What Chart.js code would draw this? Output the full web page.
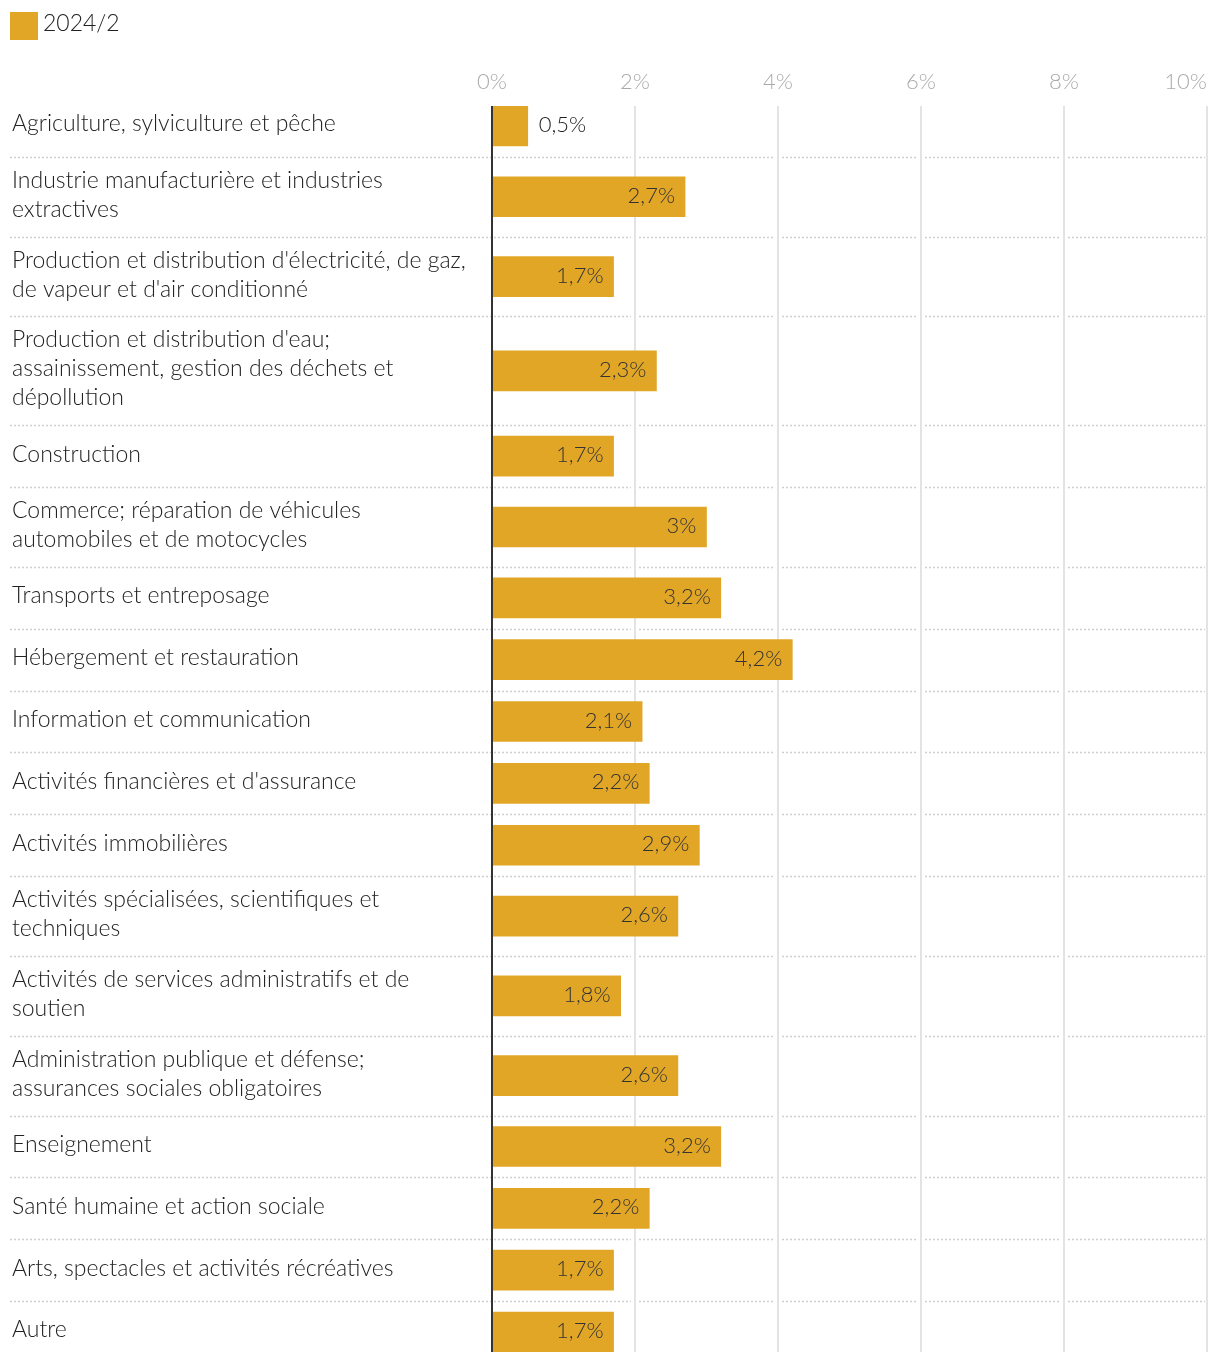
<!DOCTYPE html>
<html lang="fr">
<head>
<meta charset="UTF-8" />
<title>Secteurs — 2024/2</title>
<script src="https://cdn.jsdelivr.net/npm/chart.js"></script>
<style>
  html, body { margin: 0; padding: 0; background: #fff; }
  #wrap { position: relative; width: 1220px; height: 1364px; }
</style>
</head>
<body>
<div id="wrap"><canvas id="chart"></canvas></div>
<script>
// data
const seriesName = '2024/2';
const categories = [
  ['Agriculture, sylviculture et pêche'],
  ['Industrie manufacturière et industries', 'extractives'],
  ["Production et distribution d'électricité, de gaz,", "de vapeur et d'air conditionné"],
  ["Production et distribution d'eau;", 'assainissement, gestion des déchets et', 'dépollution'],
  ['Construction'],
  ['Commerce; réparation de véhicules', 'automobiles et de motocycles'],
  ['Transports et entreposage'],
  ['Hébergement et restauration'],
  ['Information et communication'],
  ["Activités financières et d'assurance"],
  ['Activités immobilières'],
  ['Activités spécialisées, scientifiques et', 'techniques'],
  ['Activités de services administratifs et de', 'soutien'],
  ['Administration publique et défense;', 'assurances sociales obligatoires'],
  ['Enseignement'],
  ['Santé humaine et action sociale'],
  ['Arts, spectacles et activités récréatives'],
  ['Autre']
];
const values = [0.5, 2.7, 1.7, 2.3, 1.7, 3, 3.2, 4.2, 2.1, 2.2, 2.9, 2.6, 1.8, 2.6, 3.2, 2.2, 1.7, 1.7];
const tickValues = [0, 2, 4, 6, 8, 10];

const FACE = 'Lato, "Open Sans", sans-serif';
const FONT = '300 22px ' + FACE;
const LABEL_FONT = '300 23px ' + FACE;
const BAR_COLOR = '#e2a627';
const LINE_H = 29, ROW_PAD = 22, ROW_MIN = 62, BAR_H = 40;

// rows grow with the number of label lines
const rowHeights = categories.map(l => Math.max(ROW_MIN, l.length * LINE_H + ROW_PAD));
const rowTops = [];
let acc = 0;
rowHeights.forEach(h => { rowTops.push(acc); acc += h; });
const totalH = acc;
const rowCenters = rowHeights.map((h, i) => rowTops[i] + h / 2);
const edge = (ROW_MIN - BAR_H) / 2;

const fmt = v => String(v).replace('.', ',') + '%';

const decor = {
  id: 'decor',
  beforeDatasetsDraw(chart) {
    const { ctx, chartArea, scales: { x, y } } = chart;
    // dotted separators between rows
    const gx = tickValues.slice(1).map(t => x.getPixelForValue(t));
    ctx.save();
    ctx.strokeStyle = '#cfcfcf';
    ctx.lineWidth = 1.5;
    ctx.setLineDash([2, 2]);
    for (let i = 1; i < rowTops.length; i++) {
      const py = Math.round(y.getPixelForValue(rowTops[i])) + 0.5;
      let start = 10;
      const stops = gx.slice(0, -1).concat([chartArea.right - 2]);
      stops.forEach((sx, k) => {
        const end = k < stops.length - 1 ? sx - 4 : sx;
        ctx.beginPath();
        ctx.moveTo(start, py);
        ctx.lineTo(end, py);
        ctx.stroke();
        start = sx + 4;
      });
    }
    ctx.restore();
  },
  afterDatasetsDraw(chart) {
    const { ctx, chartArea, scales: { x, y } } = chart;
    ctx.save();
    // zero axis
    const x0 = x.getPixelForValue(0);
    ctx.strokeStyle = '#333';
    ctx.lineWidth = 2;
    ctx.beginPath();
    ctx.moveTo(x0, chartArea.top);
    ctx.lineTo(x0, chartArea.bottom);
    ctx.stroke();

    // value labels
    ctx.font = FONT;
    ctx.textBaseline = 'middle';
    const meta = chart.getDatasetMeta(0);
    meta.data.forEach((bar, i) => {
      const txt = fmt(values[i]);
      const w = ctx.measureText(txt).width;
      if (w + 20 > bar.x - bar.base) {
        ctx.fillStyle = '#222';
        ctx.textAlign = 'left';
        ctx.fillText(txt, bar.x + 11, bar.y - 1);
      } else {
        ctx.fillStyle = '#333';
        ctx.textAlign = 'right';
        ctx.fillText(txt, bar.x - 10, bar.y - 1);
      }
    });

    // category labels
    ctx.font = LABEL_FONT;
    ctx.fillStyle = '#222';
    ctx.textAlign = 'left';
    categories.forEach((lines, i) => {
      const cy = y.getPixelForValue(rowCenters[i]) - 2;
      lines.forEach((ln, j) => {
        ctx.fillText(ln, 12, cy + (j - (lines.length - 1) / 2) * LINE_H);
      });
    });

    // tick labels on top
    ctx.font = FONT;
    ctx.fillStyle = '#aaa';
    tickValues.forEach((t, k) => {
      const px = x.getPixelForValue(t);
      const last = k === tickValues.length - 1;
      ctx.textAlign = last ? 'right' : 'center';
      ctx.fillText(t + '%', last ? chartArea.right : px, 82);
    });

    // legend
    ctx.font = LABEL_FONT;
    ctx.fillStyle = BAR_COLOR;
    ctx.fillRect(10, 12, 28, 28);
    ctx.fillStyle = '#222';
    ctx.textAlign = 'left';
    ctx.fillText(chart.data.datasets[0].label, 43, 24);
    ctx.restore();
  }
};

new Chart(document.getElementById('chart'), {
  type: 'bar',
  data: {
    datasets: [{
      label: seriesName,
      data: values.map((v, i) => ({ x: v, y: rowCenters[i] })),
      backgroundColor: BAR_COLOR,
      barThickness: BAR_H,
      borderWidth: 0
    }]
  },
  options: {
    indexAxis: 'y',
    responsive: true,
    maintainAspectRatio: false,
    animation: false,
    layout: { padding: { left: 492, right: 13, top: 106, bottom: 12 } },
    scales: {
      x: {
        type: 'linear',
        position: 'top',
        min: 0,
        max: 10,
        ticks: { display: false, stepSize: 2 },
        grid: { drawTicks: false, color: '#e3e3e3', lineWidth: 2 },
        border: { display: false },
        afterFit(s) { s.height = 0; }
      },
      y: {
        type: 'linear',
        reverse: true,
        offset: false,
        grid: { offset: false },
        min: edge,
        max: totalH - edge,
        display: false
      }
    },
    plugins: {
      legend: { display: false },
      tooltip: { enabled: false }
    }
  },
  plugins: [decor]
});
</script>
</body>
</html>
